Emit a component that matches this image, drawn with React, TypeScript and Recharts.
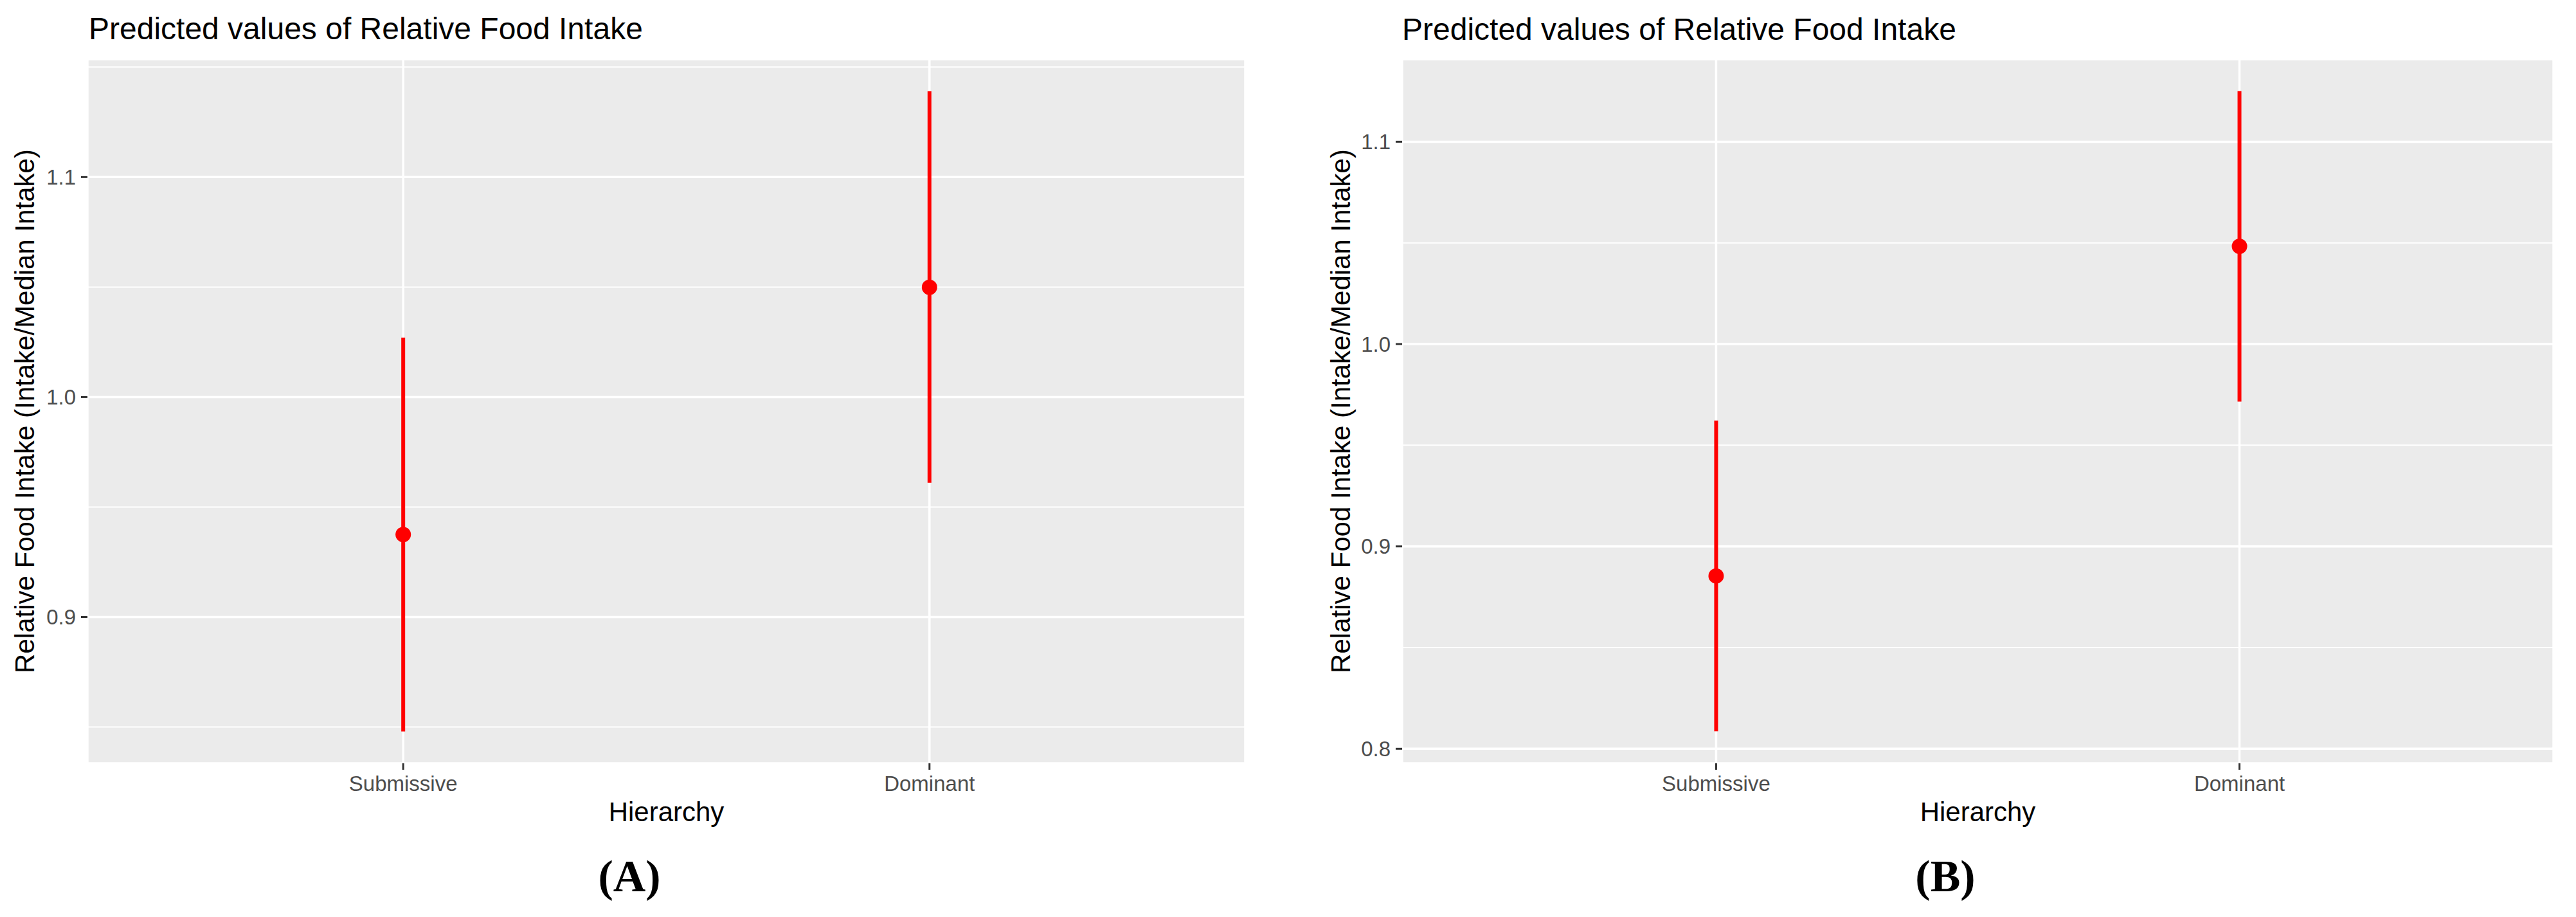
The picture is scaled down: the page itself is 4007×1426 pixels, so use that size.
import React from "react";
import { ScatterChart, Scatter, ErrorBar, XAxis, YAxis, CartesianGrid } from "recharts";

const categories = ["Submissive", "Dominant"];
const positions = [1, 2];

const predictedA = [0.9375, 1.0499];
const lowerA = [0.848, 0.961];
const upperA = [1.027, 1.139];
const majorTicksA = [0.9, 1.0, 1.1];
const minorTicksA = [0.85, 0.95, 1.05, 1.15];

const predictedB = [0.8854, 1.0483];
const lowerB = [0.8086, 0.9716];
const upperB = [0.9622, 1.125];
const majorTicksB = [0.8, 0.9, 1.0, 1.1];
const minorTicksB = [0.85, 0.95, 1.05];

const TITLE = "Predicted values of Relative Food Intake";
const Y_LABEL = "Relative Food Intake (Intake/Median Intake)";
const X_LABEL = "Hierarchy";
const SANS = "'Liberation Sans', Arial, sans-serif";
const SERIF = "'Liberation Serif', 'Times New Roman', serif";
const RED = "#FF0000";

const buildRows = (pred: number[], lo: number[], hi: number[]) =>
  positions.map((pos, i) => ({
    pos,
    value: pred[i],
    err: [pred[i] - lo[i], hi[i] - pred[i]],
  }));

interface PanelProps {
  left: number;
  width: number;
  marginLeft: number;
  marginRight: number;
  domain: [number, number];
  major: number[];
  minor: number[];
  rows: { pos: number; value: number; err: number[] }[];
  yLabelGap: number;
}

const Dot = (props: any) => <circle cx={props.cx} cy={props.cy} r={12} fill={RED} />;

const Panel = ({ left, width, marginLeft, marginRight, domain, major, minor, rows, yLabelGap }: PanelProps) => (
  <div style={{ position: "absolute", left, top: 0 }}>
    <ScatterChart
      width={width}
      height={1426}
      margin={{ top: 92, right: marginRight, bottom: 139, left: marginLeft }}
    >
      <CartesianGrid
        fill="#EBEBEB"
        stroke="#FFFFFF"
        strokeWidth={2}
        vertical={false}
        horizontalValues={minor}
      />
      <CartesianGrid stroke="#FFFFFF" strokeWidth={3.5} />
      <XAxis
        type="number"
        dataKey="pos"
        domain={[0.4, 2.6]}
        ticks={positions}
        allowDataOverflow
        height={100}
        tickFormatter={(v: number) => categories[v - 1]}
        axisLine={false}
        tickSize={10}
        tickMargin={10}
        tickLine={{ stroke: "#333333", strokeWidth: 3 }}
        tick={{ fill: "#4D4D4D", fontSize: 33, fontFamily: SANS }}
        label={(p: any) => {
          const vb = p.viewBox;
          return (
            <text x={vb.x + vb.width / 2} y={vb.y + 90} textAnchor="middle" fontSize={42} fontFamily={SANS} fill="#000">
              {X_LABEL}
            </text>
          );
        }}
      />
      <YAxis
        type="number"
        dataKey="value"
        domain={domain}
        ticks={major}
        allowDataOverflow
        width={100}
        axisLine={false}
        tickSize={10}
        tickMargin={8}
        tickFormatter={(v: number) => v.toFixed(1)}
        tickLine={{ stroke: "#333333", strokeWidth: 3 }}
        tick={{ fill: "#4D4D4D", fontSize: 33, fontFamily: SANS }}
        label={(p: any) => {
          const vb = p.viewBox;
          const x = vb.x + vb.width - yLabelGap;
          const y = vb.y + vb.height / 2;
          return (
            <text x={x} y={y} transform={`rotate(-90, ${x}, ${y})`} textAnchor="middle" fontSize={42} fontFamily={SANS} fill="#000">
              {Y_LABEL}
            </text>
          );
        }}
      />
      <Scatter data={rows} fill={RED} shape={Dot} isAnimationActive={false}>
        <ErrorBar dataKey="err" direction="y" width={0} stroke={RED} strokeWidth={6} isAnimationActive={false} />
      </Scatter>
    </ScatterChart>
  </div>
);

const App = () => {
  const rowsA = buildRows(predictedA, lowerA, upperA);
  const rowsB = buildRows(predictedB, lowerB, upperB);
  return (
    <div style={{ position: "absolute", left: 0, top: 0, width: 4007, height: 1426, background: "#FFFFFF", overflow: "hidden" }}>
      <Panel
        left={0}
        width={2000}
        marginLeft={36}
        marginRight={63}
        domain={[0.8335, 1.1536]}
        major={majorTicksA}
        minor={minorTicksA}
        rows={rowsA}
        yLabelGap={83}
      />
      <Panel
        left={2000}
        width={2007}
        marginLeft={81}
        marginRight={35}
        domain={[0.7928, 1.1408]}
        major={majorTicksB}
        minor={minorTicksB}
        rows={rowsB}
        yLabelGap={81}
      />
      <svg width={4007} height={1426} style={{ position: "absolute", left: 0, top: 0, pointerEvents: "none" }}>
        <text x={138} y={61} fontSize={48} fontFamily={SANS} fill="#000">{TITLE}</text>
        <text x={2181} y={62} fontSize={48} fontFamily={SANS} fill="#000">{TITLE}</text>
        <text x={979} y={1386} textAnchor="middle" fontSize={70} fontWeight="bold" fontFamily={SERIF} fill="#000">(A)</text>
        <text x={3026} y={1386} textAnchor="middle" fontSize={70} fontWeight="bold" fontFamily={SERIF} fill="#000">(B)</text>
      </svg>
    </div>
  );
};

export default App;
